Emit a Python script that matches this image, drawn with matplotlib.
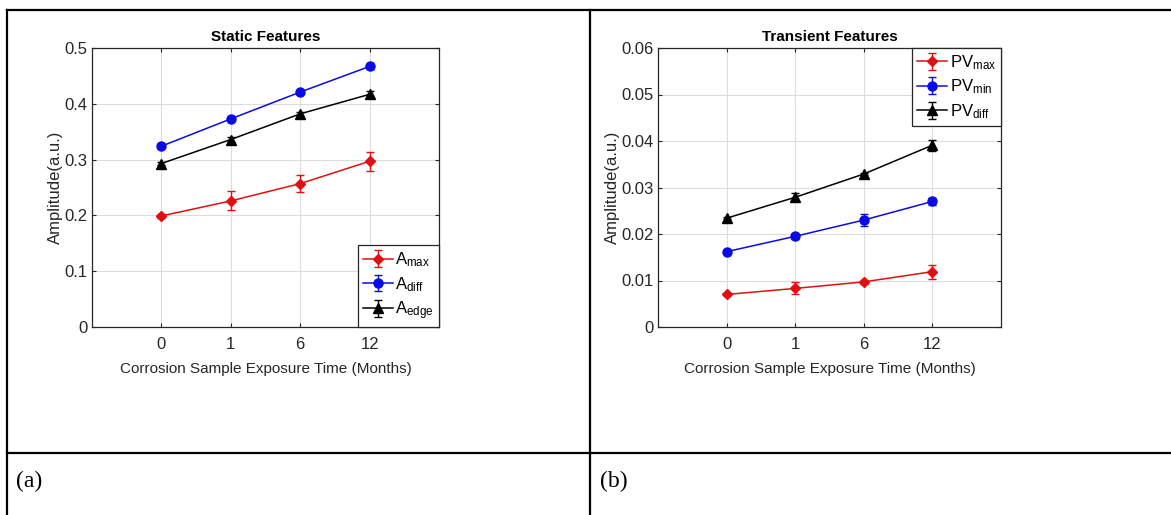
import matplotlib
matplotlib.use('Agg')
import matplotlib.pyplot as plt
from matplotlib.lines import Line2D

plt.rcParams['font.family'] = 'Liberation Sans'
plt.rcParams['mathtext.fontset'] = 'custom'
plt.rcParams['mathtext.rm'] = 'Liberation Sans'
plt.rcParams['mathtext.it'] = 'Liberation Sans'

months = ['0', '1', '6', '12']

# static features
a_max = [0.199, 0.226, 0.257, 0.297]
a_max_err = [0.003, 0.017, 0.015, 0.017]
a_diff = [0.324, 0.373, 0.421, 0.467]
a_diff_err = [0.002, 0.003, 0.003, 0.004]
a_edge = [0.293, 0.336, 0.382, 0.417]
a_edge_err = [0.002, 0.005, 0.004, 0.006]

# transient features
pv_max = [0.0070, 0.0083, 0.0097, 0.0119]
pv_max_err = [0.0004, 0.0013, 0.0005, 0.0015]
pv_min = [0.0162, 0.0195, 0.0230, 0.0270]
pv_min_err = [0.0003, 0.0005, 0.0012, 0.0007]
pv_diff = [0.0234, 0.0279, 0.0329, 0.0391]
pv_diff_err = [0.0002, 0.0009, 0.0003, 0.0012]

W, H = 1171, 515
AX_COL = '#262626'


def box(x0, y0, x1, y1):
    return [x0 / W, 1 - y1 / H, (x1 - x0) / W, (y1 - y0) / H]


def draw(ax, title, series, ylim, yticks, yfmt, legend_loc):
    xs = range(1, len(months) + 1)
    for vals, errs, col, mk, ms, lab in series:
        ax.errorbar(xs, vals, yerr=errs, color=col, marker=mk, markersize=ms,
                    linewidth=1.1, elinewidth=1.0, capsize=3, capthick=1.0,
                    label=lab)
    ax.set_xlim(0, 5)
    ax.set_ylim(*ylim)
    ax.set_xticks(list(xs))
    ax.set_xticklabels(months)
    ax.set_yticks(yticks)
    ax.set_yticklabels([yfmt(v) for v in yticks])
    ax.grid(True, color='#dcdcdc', linewidth=0.8)
    ax.set_axisbelow(True)
    ax.tick_params(direction='in', top=True, right=True, length=3,
                   labelsize=12, colors=AX_COL)
    ax.tick_params(axis='x', pad=7)
    ax.tick_params(axis='y', pad=3)
    for s in ax.spines.values():
        s.set_color(AX_COL)
        s.set_linewidth(0.9)
    ax.set_title(title, fontsize=11, fontweight='bold', pad=5)
    ax.set_xlabel('Corrosion Sample Exposure Time (Months)', fontsize=11,
                  color=AX_COL, labelpad=7.5)
    ax.set_ylabel('Amplitude(a.u.)', fontsize=12, color=AX_COL, labelpad=1)
    leg = ax.legend(loc=legend_loc, fontsize=12, fancybox=False, framealpha=1,
                    edgecolor=AX_COL, borderaxespad=0, handlelength=1.8,
                    handletextpad=0.15, labelspacing=0.35, borderpad=0.3)
    leg.get_frame().set_linewidth(0.9)


fig = plt.figure(figsize=(W / 100, H / 100), dpi=100)

ax1 = fig.add_axes(box(92, 48, 439, 327))
draw(ax1, 'Static Features',
     [(a_max, a_max_err, '#e01010', 'D', 5, r'A$_{\mathrm{max}}$'),
      (a_diff, a_diff_err, '#0a0ae6', 'o', 6.5, r'A$_{\mathrm{diff}}$'),
      (a_edge, a_edge_err, 'black', '^', 7, r'A$_{\mathrm{edge}}$')],
     (0, 0.5), [0, 0.1, 0.2, 0.3, 0.4, 0.5],
     lambda v: '0' if v == 0 else f'{v:.1f}', 'lower right')

ax2 = fig.add_axes(box(658, 48, 1001, 327))
draw(ax2, 'Transient Features',
     [(pv_max, pv_max_err, '#e01010', 'D', 5, r'PV$_{\mathrm{max}}$'),
      (pv_min, pv_min_err, '#0a0ae6', 'o', 6.5, r'PV$_{\mathrm{min}}$'),
      (pv_diff, pv_diff_err, 'black', '^', 7, r'PV$_{\mathrm{diff}}$')],
     (0, 0.06), [0, 0.01, 0.02, 0.03, 0.04, 0.05, 0.06],
     lambda v: '0' if v == 0 else f'{v:.2f}', 'upper right')

# table lines around the two panels
lw = 1.6
fig.add_artist(Line2D([7 / W, 1], [1 - 10 / H] * 2, color='black', lw=lw))
fig.add_artist(Line2D([7 / W, 1], [1 - 453 / H] * 2, color='black', lw=lw))
fig.add_artist(Line2D([7 / W] * 2, [0, 1 - 10 / H], color='black', lw=lw))
fig.add_artist(Line2D([590 / W] * 2, [0, 1 - 10 / H], color='black', lw=lw))

fig.text(16 / W, 1 - 481 / H, '(a)', family='Liberation Serif', fontsize=17,
         va='center', ha='left')
fig.text(600 / W, 1 - 481 / H, '(b)', family='Liberation Serif', fontsize=17,
         va='center', ha='left')

fig.savefig('out.png', dpi=100)
